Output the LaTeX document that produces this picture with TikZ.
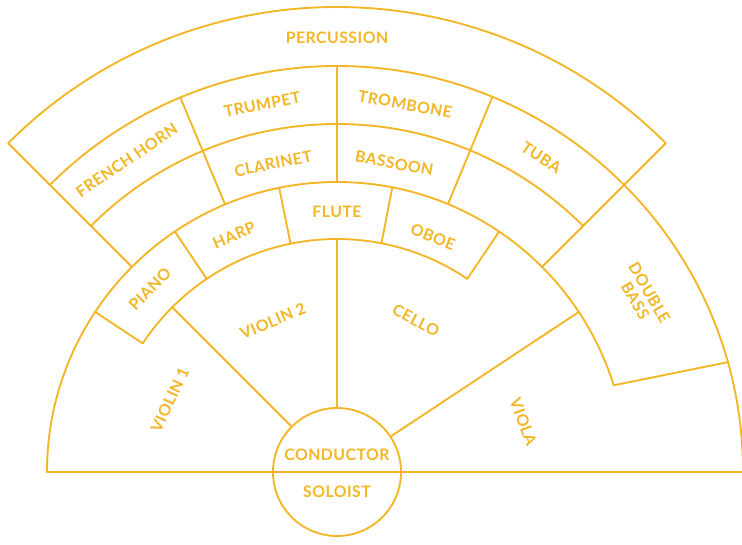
\documentclass[tikz,border=0pt]{standalone}
\usepackage{fontspec}
\newfontfamily\stagefont[LetterSpace=3]{Lato}
\usetikzlibrary{calc}
\definecolor{brass}{RGB}{242,182,38}

\begin{document}
\begin{tikzpicture}[scale=0.03,
    wall/.style={draw=brass, line width=1.6pt, line join=round, line cap=round},
    lbl/.style={text=brass, font=\stagefont\bfseries\fontsize{13.5}{14}\selectfont, align=center, inner sep=0pt}
]
\useasboundingbox (-337,-72) rectangle (405,472);

% conductor and base line
\draw[wall] (0,0) circle[radius=64];
\draw[wall] (180:290) -- (0:406);

% strings
\draw[wall] (180:290) arc[start angle=180, end angle=17.4, radius=290];
\draw[wall] (135:64) -- (135:233);
\draw[wall] (90:64) -- (90:233);
\draw[wall] (33.5:64) -- (33.5:290);

% double bass
\draw[wall] (0:406) arc[start angle=0, end angle=135, radius=406];
\draw[wall] (17.4:290) -- (15.7:406);

% woodwind ring
\draw[wall] (146.5:233) arc[start angle=146.5, end angle=56, radius=233];
\foreach \a in {146.5,124,101.5,79,56}
  \draw[wall] (\a:233) -- (\a:290);

% brass rings and percussion
\draw[wall] (135:348) arc[start angle=135, end angle=45, radius=348];
\draw[wall] (135:465) arc[start angle=135, end angle=45, radius=465];
\draw[wall] (135:290) -- (135:465);
\draw[wall] (45:290) -- (45:465);
\foreach \a in {112.7,90,67.5}
  \draw[wall] (\a:290) -- (\a:406);

% labels
\node[lbl] (perc) at (90:434) {PERCUSSION};
\node[lbl, rotate=34] (horn) at (124:376) {FRENCH HORN};
\node[lbl, rotate=11.5] (trumpet) at (101.5:375) {TRUMPET};
\node[lbl, rotate=-10.5] (trombone) at (79.5:374) {TROMBONE};
\node[lbl, rotate=-33] (tuba) at (57:375) {TUBA};
\node[lbl, rotate=11.7] (clarinet) at (101.7:315) {CLARINET};
\node[lbl, rotate=-10.5] (bassoon) at (79.5:314) {BASSOON};
\node[lbl, rotate=45.6] (piano) at (135.6:262) {PIANO};
\node[lbl, rotate=23.5] (harp) at (113.5:258) {HARP};
\node[lbl] (flute) at (90:260) {FLUTE};
\node[lbl, rotate=-22] (oboe) at (67.8:254) {OBOE};
\node[lbl, rotate=65] (violin1) at (156.7:182) {VIOLIN 1};
\node[lbl, rotate=23] (violin2) at (113:164) {VIOLIN 2};
\node[lbl, rotate=-27.5] (cello) at (62.5:171) {CELLO};
\node[lbl, rotate=-70] (viola) at (15:193) {VIOLA};
\node[lbl, rotate=-60] (bass) at (29.8:352) {DOUBLE\\BASS};
\node[lbl] (conductor) at (0,17) {CONDUCTOR};
\node[lbl] (soloist) at (0,-20) {SOLOIST};
\end{tikzpicture}
\end{document}
